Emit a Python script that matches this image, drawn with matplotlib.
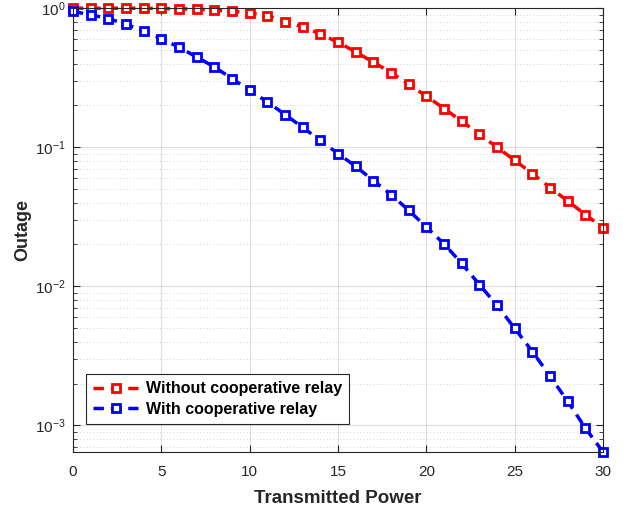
import numpy as np
import matplotlib.pyplot as plt
from matplotlib.ticker import LogLocator, NullFormatter

plt.rcParams['font.family'] = ['Liberation Sans', 'DejaVu Sans']
plt.rcParams['mathtext.fontset'] = 'custom'
plt.rcParams['mathtext.rm'] = 'Liberation Sans'
plt.rcParams['mathtext.it'] = 'Liberation Sans'
plt.rcParams['mathtext.default'] = 'regular'
plt.rcParams['axes.unicode_minus'] = False

power = list(range(0, 31))

## outage without relay
no_relay = [1.0, 1.0, 1.0, 1.0, 1.0, 0.995, 0.99, 0.985, 0.967, 0.95, 0.925,
            0.88, 0.80, 0.734, 0.653, 0.569, 0.485, 0.409, 0.344, 0.284, 0.233,
            0.19, 0.154, 0.124, 0.100, 0.0805, 0.0647, 0.0513, 0.0411, 0.0328, 0.0263]

## outage with relay
with_relay = [0.95, 0.895, 0.843, 0.767, 0.687, 0.605, 0.524, 0.446, 0.378, 0.312, 0.257,
              0.212, 0.172, 0.139, 0.112, 0.090, 0.073, 0.0576, 0.0457, 0.0352, 0.0267,
              0.0202, 0.0146, 0.0103, 0.0073, 0.00499, 0.0034, 0.00226, 0.00149, 0.000957, 0.000643]

fig = plt.figure(figsize=(6.23, 5.12), dpi=100)
ax = fig.add_axes([0.117, 0.117, 0.851, 0.867])

ax.semilogy(power, no_relay, color="red", linestyle="--", linewidth=2.5, dashes=(3, 2),
            marker="s", markersize=5.5, markerfacecolor="white", markeredgewidth=2,
            label="Without cooperative relay", clip_on=False)
ax.semilogy(power, with_relay, color="blue", linestyle="--", linewidth=2.5, dashes=(3, 2),
            marker="s", markersize=5.5, markerfacecolor="white", markeredgewidth=2,
            label="With cooperative relay", clip_on=False)

ax.set_xlim(0, 30)
ax.set_ylim(min(with_relay), 1)
ax.set_xticks([0, 5, 10, 15, 20, 25, 30])
ax.yaxis.set_major_locator(LogLocator(base=10))
ax.yaxis.set_minor_locator(LogLocator(base=10, subs=np.arange(2, 10)))
ax.yaxis.set_minor_formatter(NullFormatter())

ax.grid(True, which="major", color="#262626", alpha=0.15, linewidth=0.8)
ax.grid(True, which="minor", axis="y", color="#262626", alpha=0.25, linestyle=(0, (1, 3)), linewidth=0.6)

ax.tick_params(which="both", direction="in", top=True, right=True, colors="#262626", labelsize=11)
ax.tick_params(which="major", length=5)
ax.tick_params(axis="x", pad=9)
ax.tick_params(axis="y", pad=5)
ax.tick_params(which="minor", length=3)
for s in ax.spines.values():
    s.set_color("#262626")
ax.set_axisbelow(True)

ax.set_xlabel("Transmitted Power", fontsize=13.5, fontweight="bold", color="#262626", labelpad=8)
ax.set_ylabel("Outage", fontsize=13, fontweight="bold", color="#262626", labelpad=3)

leg = ax.legend(loc="lower left", bbox_to_anchor=(0.01, 0.045), fancybox=False,
                edgecolor="#262626", framealpha=1, handlelength=2.8, handletextpad=0.5,
                prop={"weight": "bold", "size": 11.5}, borderpad=0.45, labelspacing=0.35)
leg.get_frame().set_linewidth(0.8)

plt.savefig("out.png", dpi=100)
